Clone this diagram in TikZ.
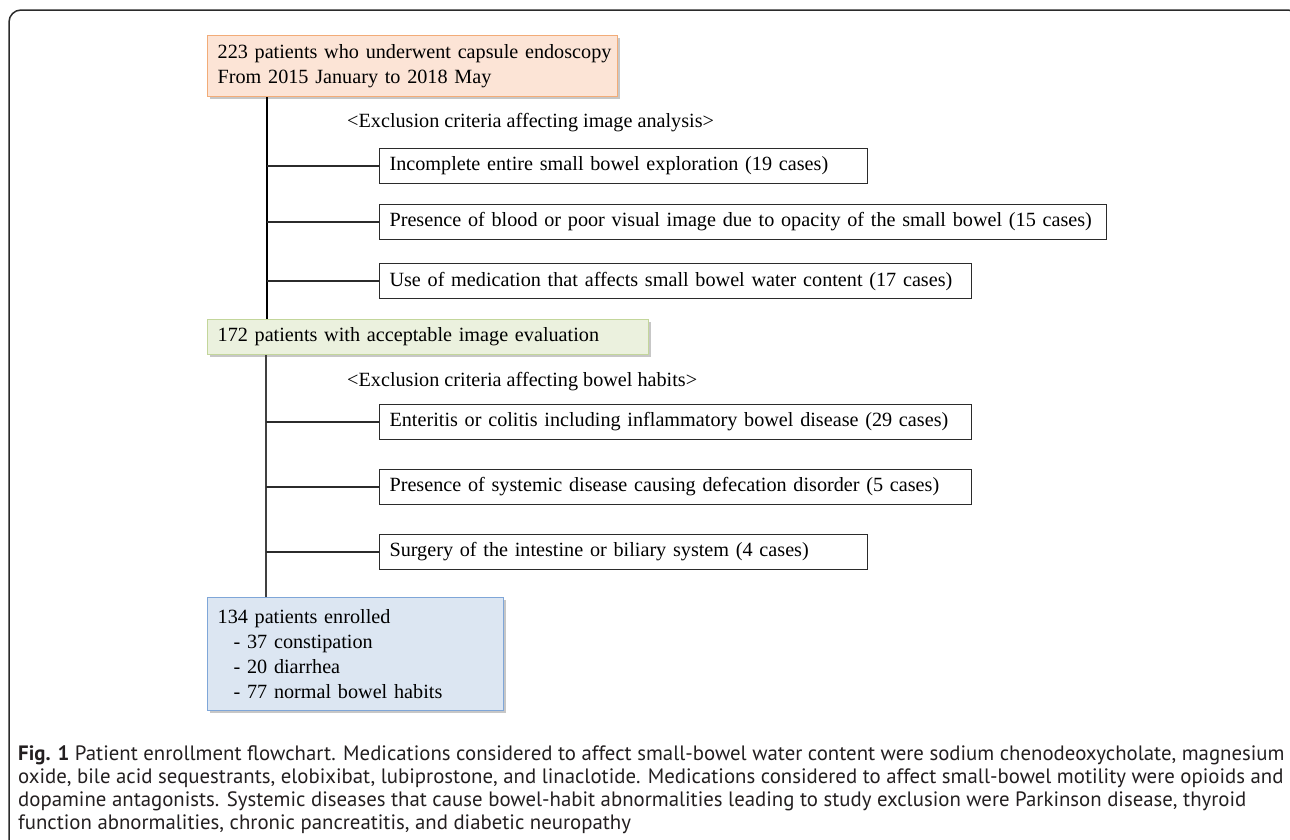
\documentclass[tikz,border=0pt]{standalone}
\usepackage{fontspec}
\setmainfont{Liberation Serif}
\newfontfamily\capfont{PT Sans}
\usetikzlibrary{shadows}
\definecolor{orfill}{HTML}{FCE4D6}
\definecolor{ordraw}{HTML}{F2AC78}
\definecolor{grfill}{HTML}{EBF1DE}
\definecolor{grdraw}{HTML}{C3D69B}
\definecolor{blfill}{HTML}{DCE6F2}
\definecolor{bldraw}{HTML}{7FA6D8}
\definecolor{framecol}{HTML}{2B2B2B}
\definecolor{captext}{HTML}{231F20}
\tikzset{
  boxfont/.style={font=\fontsize{20.2}{25}\selectfont},
  exclbox/.style={draw=framecol, line width=1.1pt, fill=white, minimum height=35pt,
    inner xsep=10pt, inner ysep=0pt, anchor=north west, align=left, boxfont},
  mainbox/.style={line width=1.3pt, inner xsep=10pt, inner ysep=0pt,
    anchor=north west, align=left, boxfont,
    drop shadow={shadow xshift=2pt, shadow yshift=-2pt, fill=black, opacity=0.22}},
  labeltext/.style={anchor=west, inner sep=0pt, boxfont},
  trunk/.style={line width=2pt, black},
  trunktwo/.style={line width=1.6pt, black!75},
  branch/.style={line width=1.2pt, framecol},
}
\begin{document}
\begin{tikzpicture}[x=1pt, y=-1pt]
\useasboundingbox (0,0) rectangle (1290,839);
% outer frame
\draw[framecol, line width=1.5pt, rounded corners=12pt] (1300,40) -- (1300,10) -- (9,10) -- (9,850);
% main boxes
\node[mainbox, draw=ordraw, fill=orfill, minimum width=410pt, minimum height=61pt, text width=390pt] (b1) at (207,35)
  {\mbox{223 patients who underwent capsule endoscopy}\\\mbox{From 2015 January to 2018 May}};
\node[mainbox, draw=grdraw, fill=grfill, minimum width=441pt, minimum height=35pt, text width=421pt] (g) at (207,319)
  {\mbox{172 patients with acceptable image evaluation}};
\node[mainbox, draw=bldraw, fill=blfill, minimum width=296pt, minimum height=113pt, text width=276pt] (bl) at (207,597)
  {134 patients enrolled\\\hspace*{16pt}- 37 constipation\\\hspace*{16pt}- 20 diarrhea\\\hspace*{16pt}- 77 normal bowel habits};
% labels
\node[labeltext] (lab1) at (347,123) {<Exclusion criteria affecting image analysis>};
\node[labeltext] (lab2) at (347,382) {<Exclusion criteria affecting bowel habits>};
% exclusion boxes
\node[exclbox, minimum width=488pt, text width=468pt] (e1) at (379,148) {\mbox{Incomplete entire small bowel exploration (19 cases)}};
\node[exclbox, minimum width=727pt, text width=707pt] (e2) at (379,204) {\mbox{Presence of blood or poor visual image due to opacity of the small bowel (15 cases)}};
\node[exclbox, minimum width=592pt, text width=572pt] (e3) at (379,263) {\mbox{Use of medication that affects small bowel water content (17 cases)}};
\node[exclbox, minimum width=592pt, text width=572pt] (e4) at (379,404) {\mbox{Enteritis or colitis including inflammatory bowel disease (29 cases)}};
\node[exclbox, minimum width=592pt, text width=572pt] (e5) at (379,469) {\mbox{Presence of systemic disease causing defecation disorder (5 cases)}};
\node[exclbox, minimum width=488pt, text width=468pt] (e6) at (379,534) {\mbox{Surgery of the intestine or biliary system (4 cases)}};
% trunks
\coordinate (v1) at (267,0);
\coordinate (v2) at (266,0);
\draw[trunk] (v1 |- b1.south) -- (v1 |- g.north);
\draw[trunktwo] (v2 |- g.south) -- (v2 |- bl.north);
\foreach \n in {e1,e2,e3}{\draw[branch] (v1 |- \n.west) -- (\n.west);}
\foreach \n in {e4,e5,e6}{\draw[branch] (v2 |- \n.west) -- (\n.west);}
% caption
\node[anchor=north west, inner sep=0pt, align=left, text=captext,
  font=\capfont\fontsize{20.8}{23.3}\selectfont] (cap) at (18,745)
  {\textbf{Fig. 1} Patient enrollment flowchart. Medications considered to affect small-bowel water content were sodium chenodeoxycholate, magnesium\\
   oxide, bile acid sequestrants, elobixibat, lubiprostone, and linaclotide. Medications considered to affect small-bowel motility were opioids and\\
   dopamine antagonists. Systemic diseases that cause bowel-habit abnormalities leading to study exclusion were Parkinson disease, thyroid\\
   function abnormalities, chronic pancreatitis, and diabetic neuropathy};
\end{tikzpicture}
\end{document}
